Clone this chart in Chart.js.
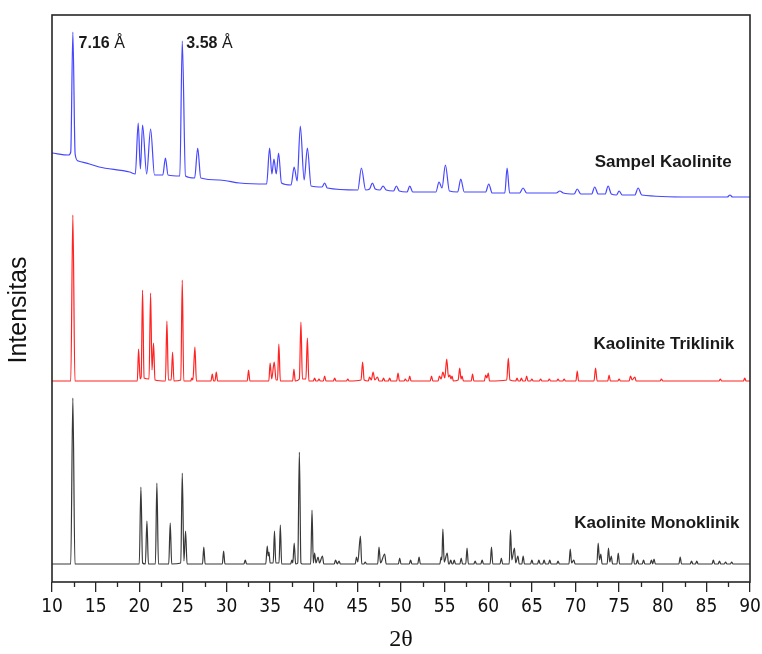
<!DOCTYPE html>
<html>
<head>
<meta charset="utf-8">
<script src="https://cdn.jsdelivr.net/npm/chart.js@4.4.1/dist/chart.umd.min.js"></script>
<style>
  html, body { margin: 0; padding: 0; background: #fff; }
  #wrap { width: 762px; height: 654px; }
</style>
</head>
<body>
<div id="wrap"><canvas id="xrd" width="762" height="654"></canvas></div>
<script>
// [2theta, intensity (arb. units, offset traces)]
const sampelPattern = [
  [10,429],[11.9,427],[12.15,430],[12.39,550],[12.65,428],[13.0,421],[14.3,418],[15.4,415],[18.9,410],[19.55,408],
  [19.88,459],[20.13,413],[20.38,457],[20.85,408],[21.3,453],[21.75,407],
  [22.7,407],[23.0,424],[23.3,407],[24.65,406],[24.93,541],[25.3,406],[26.35,404],[26.7,434],[27.05,404],
  [29.2,402],[31.5,399],[34.6,398],[34.94,434],[35.2,408],[35.44,423],[35.7,408],[35.97,429],[36.3,399],
  [37.4,397],[37.75,415],[38.1,401],[38.46,456],[38.9,402],[39.27,434],[39.7,396],
  [40.95,395],[41.25,399],[41.55,394],[45.05,392],[45.46,414],[45.95,392],[46.4,393],[46.72,399],[47.05,393],
  [47.6,392],[47.94,396],[48.3,392],[49.15,391],[49.47,396],[49.8,391],[50.7,390],[51.0,396],[51.35,390],
  [54.0,390],[54.36,400],[54.7,394],[55.09,417],[55.55,391],[56.5,390],[56.85,403],[57.25,390],[59.7,390],[60.06,398],[60.45,389],
  [61.9,389],[62.16,414],[62.45,389],[63.6,389],[63.99,394],[64.4,389],
  [67.8,389],[68.2,391],[68.6,389],[69.85,388],[70.2,393],[70.6,388],[71.85,388],[72.2,395],[72.6,388],[73.4,388],[73.74,396],[74.1,388],
  [74.7,387],[75.0,391],[75.35,387],[76.8,387],[77.18,394],[77.6,387],[83.1,385],[87.4,385],[87.7,387],[88.0,385],[90,385]
];

const triklinikPattern = [
  [10,201],[12.15,201],[12.39,367],[12.63,201],
  [19.78,201],[19.92,233],[20.1,203],[20.22,205],[20.38,292],[20.55,204],[21.12,203],[21.3,289],[21.46,212],[21.64,239],[21.8,202],
  [23.0,201],[23.17,261],[23.34,202],[23.66,202],[23.82,230],[23.98,201],[24.76,202],[24.93,302],[25.1,201],[25.9,201],[26.03,204],[26.15,202],[26.38,235],[26.55,201],
  [28.22,201],[28.37,208],[28.52,201],[28.68,201],[28.83,210],[28.98,201],[32.38,201],[32.53,212],[32.68,201],
  [34.85,201],[35.0,219],[35.18,203],[35.47,220],[35.68,202],[35.85,202],[36.0,238],[36.17,201],[37.58,201],[37.73,213],[37.88,201],
  [38.35,203],[38.53,260],[38.7,203],[39.1,203],[39.27,244],[39.44,201],
  [39.95,201],[40.1,204],[40.25,201],[40.45,201],[40.6,203],[40.75,201],[41.1,201],[41.25,206],[41.4,201],[42.25,201],[42.4,204],[42.55,201],[43.75,201],[43.9,203],[44.05,201],
  [45.42,202],[45.6,220],[45.78,202],[46.25,201],[46.4,205],[46.6,202],[46.8,210],[47.0,202],[47.3,205],[47.48,201],[47.85,201],[48.0,204],[48.15,201],
  [48.55,201],[48.7,204],[48.85,201],[49.5,201],[49.66,209],[49.82,201],[50.35,201],[50.5,203],[50.65,201],[50.85,201],[51.0,206],[51.15,201],
  [53.35,201],[53.5,206],[53.65,201],[54.25,201],[54.4,206],[54.6,203],[54.8,210],[55.02,204],[55.24,223],[55.44,205],[55.6,207],[55.72,203],[55.85,206],[56.0,201],
  [56.55,202],[56.73,214],[56.88,203],[57.0,206],[57.15,201],[58.05,201],[58.2,208],[58.35,201],[59.55,201],[59.7,207],[59.85,204],[60.0,209],[60.15,201],
  [62.12,202],[62.3,224],[62.48,202],[63.15,201],[63.3,204],[63.45,201],[63.65,201],[63.8,204],[63.95,201],[64.25,201],[64.4,206],[64.55,201],
  [64.85,201],[65.0,203],[65.15,201],[65.85,201],[66.0,203],[66.15,201],[66.85,201],[67.0,203],[67.15,201],[67.85,201],[68.0,203],[68.15,201],[68.55,201],[68.7,203],[68.85,201],
  [70.05,201],[70.2,211],[70.35,201],[72.12,201],[72.3,214],[72.48,201],[73.7,201],[73.85,207],[74.0,201],[74.85,201],[75.0,203],[75.15,201],
  [76.15,201],[76.3,206],[76.5,202],[76.8,205],[76.95,201],[79.7,201],[79.85,203],[80.0,201],[86.45,201],[86.6,203],[86.75,201],[89.25,201],[89.4,204],[89.55,201],[90,201]
];

const monoklinikPattern = [
  [10,18],[12.15,18],[12.39,184],[12.63,18],
  [20.0,18],[20.19,95],[20.38,19],[20.7,18],[20.88,61],[21.05,18],[21.85,18],[22.02,99],[22.2,18],[23.38,18],[23.55,59],[23.72,18],
  [24.76,19],[24.93,109],[25.12,21],[25.31,51],[25.48,18],
  [27.25,18],[27.4,35],[27.55,18],[29.52,18],[29.67,31],[29.82,18],[32.0,18],[32.15,22],[32.3,18],
  [34.5,18],[34.67,36],[34.78,26],[34.87,30],[35.0,19],[35.35,19],[35.5,51],[35.65,19],[36.02,19],[36.17,57],[36.32,18],
  [37.35,18],[37.5,22],[37.6,19],[37.76,39],[37.92,18],[38.17,19],[38.35,130],[38.53,19],[38.7,18],
  [39.65,18],[39.8,72],[39.95,19],[40.1,29],[40.25,19],[40.5,25],[40.65,19],[41.0,26],[41.15,18],[42.35,18],[42.5,22],[42.7,18],[42.9,21],[43.05,18],
  [44.75,18],[44.9,25],[45.05,20],[45.35,46],[45.5,18],[45.75,18],[45.9,20],[46.05,18],[47.33,18],[47.48,35],[47.65,19],[48.13,28],[48.3,18],
  [49.7,18],[49.85,24],[50.0,18],[50.95,18],[51.1,22],[51.25,18],[51.92,18],[52.07,25],[52.22,18],
  [54.45,18],[54.6,25],[54.68,22],[54.8,53],[54.95,20],[55.3,29],[55.45,18],[55.55,18],[55.7,22],[55.85,18],[55.95,18],[56.1,22],[56.25,18],
  [56.75,18],[56.9,24],[57.05,18],[57.42,18],[57.57,34],[57.72,18],[58.35,18],[58.5,21],[58.65,18],[59.15,18],[59.3,22],[59.45,18],
  [60.22,18],[60.37,35],[60.52,18],[61.35,18],[61.5,24],[61.65,18],
  [62.4,18],[62.55,52],[62.7,22],[63.0,34],[63.15,19],[63.4,26],[63.55,18],[63.85,18],[64.0,26],[64.15,18],[64.85,18],[65.0,22],[65.15,18],
  [65.65,18],[65.8,22],[65.95,18],[66.25,18],[66.4,22],[66.55,18],[66.9,18],[67.05,22],[67.2,18],[67.85,18],[68.0,21],[68.15,18],
  [69.25,18],[69.4,33],[69.55,19],[69.8,22],[69.95,18],
  [72.45,18],[72.6,39],[72.75,22],[72.9,28],[73.05,18],[73.63,18],[73.78,34],[73.93,20],[74.1,26],[74.25,18],[74.75,18],[74.9,29],[75.05,18],
  [76.45,18],[76.6,29],[76.75,18],[76.95,18],[77.1,22],[77.25,18],[77.65,18],[77.8,22],[77.95,18],[78.55,18],[78.7,22],[78.85,18],[79.0,23],[79.15,18],
  [81.85,18],[82.0,25],[82.15,18],[83.15,18],[83.3,21],[83.45,18],[83.75,18],[83.9,21],[84.05,18],[85.65,18],[85.8,22],[85.95,18],
  [86.35,18],[86.5,21],[86.65,18],[87.05,18],[87.2,20],[87.35,18],[87.75,18],[87.9,20],[88.05,18],[90,18]
];

const seriesNames = ['Sampel Kaolinite', 'Kaolinite Triklinik', 'Kaolinite Monoklinik'];
const peakLabels = ['7.16', '3.58'];
const xTickStep = 5;

const seriesColors = ['#4646ff', '#ff2323', '#383838'];
// where the trace names and d-spacing notes sit, in data units
const namePos = [[87.9, 420], [88.2, 238], [88.8, 59]];
const notePos = [[13.05, 538], [25.4, 538]];

const toXY = arr => arr.map(p => ({ x: p[0], y: p[1] }));

const frame = {
  id: 'frame',
  afterDatasetsDraw(chart) {
    const { ctx, chartArea: a, scales } = chart;
    const x = scales.x, y = scales.y;
    ctx.save();
    ctx.strokeStyle = '#262626';
    ctx.lineWidth = 1.6;
    ctx.strokeRect(a.left, a.top, a.right - a.left, a.bottom - a.top);
    // minor ticks
    ctx.lineWidth = 1.3;
    ctx.beginPath();
    for (let v = 12.5; v < 90; v += xTickStep) {
      const px = Math.round(x.getPixelForValue(v)) + 0.5;
      ctx.moveTo(px, a.bottom);
      ctx.lineTo(px, a.bottom + 5);
    }
    ctx.stroke();

    // series names
    ctx.fillStyle = '#1a1a1a';
    ctx.font = 'bold 17px "Liberation Sans", Arial, sans-serif';
    ctx.textAlign = 'right';
    ctx.textBaseline = 'middle';
    seriesNames.forEach((n, i) => {
      ctx.fillText(n, x.getPixelForValue(namePos[i][0]), y.getPixelForValue(namePos[i][1]));
    });

    // d-spacing notes
    ctx.textAlign = 'left';
    peakLabels.forEach((t, i) => {
      const px = x.getPixelForValue(notePos[i][0]);
      const py = y.getPixelForValue(notePos[i][1]);
      ctx.font = 'bold 16px "Liberation Sans", Arial, sans-serif';
      ctx.fillText(t, px, py);
      const w = ctx.measureText(t).width;
      ctx.font = '16px "Liberation Sans", Arial, sans-serif';
      ctx.fillText(' Å', px + w, py);
    });

    // y title
    ctx.save();
    ctx.translate(19, 310);
    ctx.rotate(-Math.PI / 2);
    ctx.textAlign = 'center';
    ctx.font = '25px "Liberation Sans", Arial, sans-serif';
    ctx.fillStyle = '#111';
    ctx.fillText('Intensitas', 0, 0);
    ctx.restore();
    ctx.restore();
  }
};

new Chart(document.getElementById('xrd'), {
  type: 'line',
  data: {
    datasets: [sampelPattern, triklinikPattern, monoklinikPattern].map((d, i) => ({
      label: seriesNames[i],
      data: toXY(d),
      borderColor: seriesColors[i],
      borderWidth: 1.2,
      pointRadius: 0,
      cubicInterpolationMode: 'monotone',
      fill: false
    }))
  },
  options: {
    responsive: false,
    animation: false,
    layout: { padding: { top: 15, right: 12, left: 0, bottom: 0 } },
    plugins: { legend: { display: false }, tooltip: { enabled: false } },
    scales: {
      x: {
        type: 'linear',
        min: 10,
        max: 90,
        afterFit: s => { s.height = 72; s.paddingLeft = 0; s.paddingRight = 0; },
        border: { display: false },
        grid: { drawOnChartArea: false, drawTicks: true, tickLength: 10, color: '#262626', lineWidth: 1.3 },
        ticks: {
          stepSize: xTickStep,
          autoSkip: false,
          maxRotation: 0,
          padding: 4,
          color: '#111',
          font: { family: '"DejaVu Sans Condensed", "Liberation Sans", Arial, sans-serif', size: 19 }
        },
        title: {
          display: true,
          text: '2θ',
          color: '#111',
          padding: { top: 0, bottom: 0 },
          font: { family: '"Liberation Serif", "Liberation Sans", serif', size: 24 }
        }
      },
      y: {
        min: 0,
        max: 567,
        afterFit: s => { s.width = 52; s.paddingTop = 0; s.paddingBottom = 0; },
        border: { display: false },
        grid: { display: false },
        ticks: { display: false }
      }
    }
  },
  plugins: [frame]
});
</script>
</body>
</html>
